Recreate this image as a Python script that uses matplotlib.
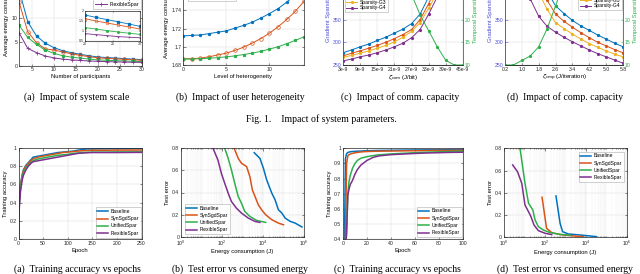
import numpy as np
import matplotlib
matplotlib.use('Agg')
import matplotlib.pyplot as plt
from matplotlib.ticker import FuncFormatter, LogLocator, NullFormatter

# ---------------- data ----------------
series_names = ['Baseline', 'SynSgdSpar', 'UnifiedSpar', 'FlexibleSpar']
sparsity_names = ['Sparsity-G1', 'Sparsity-G2', 'Sparsity-G3', 'Sparsity-G4']

# (a) impact of system scale
participants = [2, 4, 6, 8, 10, 12, 14, 16, 18, 20, 22, 24, 26, 28, 30]
scale_base = [16.0, 9.2, 6.2, 4.7, 3.75, 3.1, 2.7, 2.35, 2.05, 1.8, 1.68, 1.57, 1.46, 1.35, 1.23]
scale_syn = [13.4, 7.1, 4.8, 3.5, 3.25, 2.85, 2.45, 2.15, 1.85, 1.62, 1.5, 1.4, 1.3, 1.2, 1.1]
scale_uni = [8.5, 5.9, 4.45, 3.25, 2.55, 2.05, 1.75, 1.55, 1.35, 1.17, 1.1, 1.02, 0.95, 0.89, 0.83]
scale_flex = [6.9, 3.6, 2.7, 2.0, 1.6, 1.35, 1.18, 1.06, 0.96, 0.87, 0.82, 0.77, 0.72, 0.69, 0.66]

# (b) impact of user heterogeneity
hetero = [0, 1, 2, 3, 4, 5, 6, 7, 8, 9, 10, 11, 12, 13, 14]
het_base = [1.712, 1.7125, 1.713, 1.7145, 1.716, 1.7175, 1.7205, 1.7235, 1.727, 1.7315, 1.7365, 1.742, 1.749, 1.757, 1.766]
het_syn = [1.687, 1.687, 1.6875, 1.689, 1.691, 1.693, 1.696, 1.6995, 1.704, 1.709, 1.715, 1.722, 1.730, 1.739, 1.750]
het_uni = [1.6865, 1.6865, 1.687, 1.6875, 1.688, 1.689, 1.690, 1.6915, 1.693, 1.695, 1.6975, 1.700, 1.7035, 1.707, 1.711]

# (c) impact of comm. capacity (zeta_com in 1e-9 J/bit)
zeta_com = [3, 6, 9, 12, 15, 18, 21, 24, 27, 30, 33, 36, 39, 42, 45]
com_g1 = [277, 283, 290, 296, 304, 311, 320, 329, 341, 362, 400, 445, 490, 540, 600]
com_g2 = [270, 276, 281, 287, 293, 300, 308, 317, 328, 350, 385, 425, 470, 520, 575]
com_g3 = [267, 271, 276, 281, 287, 293, 301, 311, 324, 343, 375, 410, 450, 495, 545]
com_g4 = [259, 263, 268, 272, 277, 283, 290, 298, 310, 328, 362, 400, 440, 485, 530]
com_temporal = [30, 30, 30, 30, 30, 30, 30, 29, 25.5, 21, 17.5, 14, 11, 10, 10]
com_tick_labels = ['3e-9', '9e-9', '15e-9', '21e-9', '27e-9', '33e-9', '39e-9', '45e-9']

# (d) impact of comp. capacity (zeta_cmp in J/iteration)
zeta_cmp = [0.2, 0.6, 1.0, 1.4, 1.8, 2.2, 2.6, 3.0, 3.4, 3.8, 4.2, 4.6, 5.0, 5.4, 5.8]
cmp_g1 = [620, 570, 530, 490, 450, 412, 380, 363, 348, 336, 326, 316, 307, 298, 290]
cmp_g2 = [590, 545, 505, 470, 430, 392, 362, 346, 333, 321, 310, 300, 292, 284, 277]
cmp_g3 = [560, 520, 480, 445, 410, 372, 343, 330, 318, 307, 297, 289, 281, 274, 268]
cmp_g4 = [520, 480, 440, 395, 357, 335, 322, 311, 301, 292, 283, 275, 268, 261, 254]
cmp_temporal = [10, 10, 11, 12, 14, 18, 23, 28, 30, 30, 30, 30, 30, 30, 30]
cmp_tick_labels = ['0.2', '1.0', '1.8', '2.6', '3.4', '4.2', '5.0', '5.8']

# bottom (a) training accuracy vs epochs
epochs_a = [0, 1, 2, 4, 6, 8, 10, 15, 20, 25, 30, 40, 50, 60, 70, 80, 90, 100, 110, 120, 130, 140, 150, 175, 200, 225, 250]
acc_a_base = [0, 0.3, 0.45, 0.58, 0.66, 0.72, 0.76, 0.81, 0.84, 0.87, 0.9, 0.91, 0.92, 0.93, 0.94, 0.95, 0.955, 0.96, 0.965, 0.975, 0.985, 0.99, 0.99, 0.992, 0.993, 0.993, 0.995]
acc_a_syn = [0, 0.3, 0.45, 0.57, 0.65, 0.71, 0.75, 0.8, 0.83, 0.86, 0.88, 0.9, 0.91, 0.92, 0.93, 0.94, 0.95, 0.955, 0.96, 0.965, 0.97, 0.972, 0.975, 0.975, 0.977, 0.977, 0.978]
acc_a_uni = [0, 0.28, 0.42, 0.55, 0.63, 0.69, 0.73, 0.78, 0.81, 0.84, 0.86, 0.88, 0.89, 0.9, 0.91, 0.92, 0.925, 0.93, 0.94, 0.945, 0.95, 0.952, 0.955, 0.955, 0.957, 0.957, 0.958]
acc_a_flex = [0, 0.25, 0.38, 0.52, 0.6, 0.66, 0.7, 0.76, 0.8, 0.83, 0.85, 0.86, 0.87, 0.88, 0.89, 0.9, 0.91, 0.92, 0.93, 0.94, 0.945, 0.948, 0.95, 0.95, 0.95, 0.951, 0.952]

# bottom (b) test error vs consumed energy
en_b_base = [3715, 7080, 10470, 15140, 26920, 38900, 56230, 83180, 120200, 213800, 371500, 794300]
err_b_base = [0.758, 0.707, 0.618, 0.513, 0.394, 0.334, 0.245, 0.215, 0.170, 0.140, 0.125, 0.090]
en_b_syn = [355, 389, 617, 891, 1585, 2291, 3020, 4074, 5888, 8511, 13490, 26920, 56230, 100000]
err_b_syn = [0.82, 0.80, 0.707, 0.663, 0.633, 0.543, 0.424, 0.364, 0.29, 0.245, 0.2, 0.155, 0.125, 0.11]
en_b_uni = [125, 135, 200, 288, 417, 617, 891, 1288, 2291, 4898, 13490]
err_b_uni = [0.82, 0.8, 0.707, 0.603, 0.484, 0.364, 0.304, 0.23, 0.185, 0.149, 0.131]
en_b_flex = [33, 36, 63, 93, 135, 200, 288, 501, 891, 1905, 4074, 7080]
err_b_flex = [0.82, 0.8, 0.693, 0.573, 0.484, 0.394, 0.319, 0.26, 0.215, 0.17, 0.14, 0.131]

# bottom (c) training accuracy vs epochs
epochs_c = [0, 1, 2, 3, 4, 5, 6, 8, 10, 12, 15, 20, 25, 30, 40, 50, 60, 70, 80, 90, 100]
acc_c_base = [0.1, 0.2, 0.93, 0.965, 0.972, 0.975, 0.977, 0.979, 0.98, 0.981, 0.982, 0.984, 0.985, 0.986, 0.987, 0.988, 0.989, 0.99, 0.99, 0.991, 0.992]
acc_c_syn = [0.1, 0.15, 0.4, 0.9, 0.95, 0.958, 0.962, 0.967, 0.97, 0.973, 0.976, 0.979, 0.98, 0.981, 0.982, 0.983, 0.984, 0.985, 0.986, 0.986, 0.987]
acc_c_uni = [0.1, 0.15, 0.3, 0.45, 0.7, 0.78, 0.82, 0.87, 0.9, 0.92, 0.935, 0.945, 0.952, 0.957, 0.963, 0.967, 0.971, 0.974, 0.977, 0.979, 0.981]
acc_c_flex = [0.1, 0.15, 0.3, 0.45, 0.69, 0.73, 0.76, 0.79, 0.83, 0.86, 0.89, 0.92, 0.94, 0.95, 0.958, 0.962, 0.966, 0.969, 0.971, 0.973, 0.974]

# bottom (d) test error vs consumed energy
en_d_base = [363, 575, 759, 1445, 5370, 34670]
err_d_base = [0.372, 0.126, 0.051, 0.03, 0.021, 0.006]
en_d_syn = [76, 126, 224, 575, 1738, 7762]
err_d_syn = [0.36, 0.081, 0.042, 0.024, 0.015, 0.006]
en_d_uni = [6.2, 6.5, 11.2, 16.6, 26.9, 34.7, 50, 87, 186, 575, 1738]
err_d_uni = [0.82, 0.79, 0.485, 0.306, 0.246, 0.156, 0.096, 0.066, 0.042, 0.027, 0.018]
en_d_flex = [2.8, 4.8, 7.8, 11.2, 16.6, 21.4, 30.9, 50, 107, 224]
err_d_flex = [0.65, 0.59, 0.485, 0.29, 0.23, 0.19, 0.11, 0.06, 0.036, 0.024]

# ---------------- style ----------------
W, H = 640, 274
plt.rcParams['font.family'] = ['Liberation Sans', 'DejaVu Sans']
plt.rcParams['mathtext.fontset'] = 'dejavusans'

C_BLUE = '#0072BD'
C_ORANGE = '#D95319'
C_YELLOW = '#EDB120'
C_PURPLE = '#7E2F8E'
C_GREEN = '#2DB04B'
C_LEFT = '#4B4BD6'
C_AX = '#262626'
TICK_FS = 3.7
LABEL_FS = 4.2
LEG_FS = 3.6

fig = plt.figure(figsize=(W / 100, H / 100), dpi=100)
fig.patch.set_facecolor('white')


def add_ax(l, r, t, b):
    return fig.add_axes([l / W, 1 - b / H, (r - l) / W, (b - t) / H])


def style(ax, right=True):
    for s in ax.spines.values():
        s.set_linewidth(0.5)
        s.set_color(C_AX)
    ax.tick_params(which='both', direction='in', length=1.8, width=0.4,
                   labelsize=TICK_FS, pad=1.2, colors=C_AX, top=True, right=right)
    ax.tick_params(which='minor', length=1.0)
    ax.grid(True, which='major', color='#dcdcdc', lw=0.35)
    ax.set_axisbelow(True)


def legend(ax, loc, xy, spacing=0.15, fs=LEG_FS):
    lg = ax.legend(loc=loc, bbox_to_anchor=(xy[0] / W, 1 - xy[1] / H),
                   bbox_transform=fig.transFigure, fontsize=fs, frameon=True,
                   fancybox=False, borderpad=0.35, labelspacing=spacing,
                   handlelength=2.2, handletextpad=0.5, borderaxespad=0)
    lg.get_frame().set_linewidth(0.4)
    lg.get_frame().set_edgecolor('#999999')
    return lg


gfmt = FuncFormatter(lambda v, p: ('%g' % round(v, 4)))

# ---------- top (a) ----------
ax = add_ax(19, 141.5, -29.5, 65.5)
style(ax)
ax.plot(participants, scale_base, color=C_BLUE, marker='s', lw=0.7, ms=1.8, label=series_names[0])
ax.plot(participants, scale_syn, color=C_ORANGE, marker='o', mfc='none', mew=0.5, label=series_names[1], lw=0.7, ms=2.6)
ax.plot(participants, scale_uni, color=C_GREEN, marker='s', label=series_names[2], lw=0.7, ms=1.3)
ax.plot(participants, scale_flex, color=C_PURPLE, marker='+', mew=0.5, label=series_names[3], lw=0.7, ms=2.2)
ax.set_xlim(2, 30)
ax.set_ylim(0, 20)
ax.set_xticks([5, 10, 15, 20, 25, 30])
ax.set_yticks([0, 5, 10])
ax.set_xlabel('Number of participants', fontsize=LABEL_FS, labelpad=1.5)
ax.set_ylabel('Average energy consumption', fontsize=LABEL_FS, labelpad=1.5)
legend(ax, 'lower right', (141, 8.5), fs=3.8)

ins = add_ax(85, 140, 11, 41)
style(ins)
ins.tick_params(labelsize=2.6, pad=0.6, length=1.0)
ins.plot(participants, scale_base, color=C_BLUE, marker='s', lw=0.6, ms=1.4)
ins.plot(participants, scale_syn, color=C_ORANGE, marker='o', mfc='none', mew=0.4, lw=0.6, ms=2.0)
ins.plot(participants, scale_uni, color=C_GREEN, marker='s', lw=0.6, ms=1.0)
ins.plot(participants, scale_flex, color=C_PURPLE, marker='+', mew=0.4, lw=0.6, ms=1.6)
ins.set_xlim(20, 30)
ins.set_ylim(0.5, 2)
ins.set_xticks([20, 25, 30])
ins.set_yticks([0.5, 1, 1.5, 2])
ins.yaxis.set_major_formatter(gfmt)

# ---------- top (b) ----------
ax = add_ax(183, 304, -26, 65)
style(ax)
ax.plot(hetero, het_base, color=C_BLUE, marker='o', ms=1.4, lw=0.7, label=series_names[0])
ax.plot(hetero, het_syn, color=C_ORANGE, marker='o', mfc='none', mew=0.5, ms=2.6, lw=0.7, label=series_names[1])
ax.plot(hetero, het_uni, color=C_GREEN, marker='s', ms=1.3, lw=0.7, label=series_names[2])
ax.set_xlim(0, 14)
ax.set_ylim(1.68, 1.78)
ax.set_xticks([0, 5, 10])
ax.set_yticks([1.68, 1.70, 1.72, 1.74])
ax.yaxis.set_major_formatter(gfmt)
ax.set_xlabel('Level of heterogeneity', fontsize=LABEL_FS, labelpad=1.5)
ax.set_ylabel('Average energy consumption', fontsize=LABEL_FS, labelpad=1.5)
legend(ax, 'lower left', (188, 0.8), fs=3.8)


def sparsity_panel(l, r, xs, g1, g2, g3, g4, temporal, xlim, xticks, xticklabels, xlabel, legloc, legxy):
    ax = add_ax(l, r, -26, 65)
    style(ax, right=False)
    kw = dict(marker='.', ms=2.6, lw=0.7)
    ax.plot(xs, g1, color=C_BLUE, label=sparsity_names[0], **kw)
    ax.plot(xs, g2, color=C_ORANGE, label=sparsity_names[1], **kw)
    ax.plot(xs, g3, color=C_YELLOW, label=sparsity_names[2], **kw)
    ax.plot(xs, g4, color=C_PURPLE, label=sparsity_names[3], **kw)
    ax.set_xlim(*xlim)
    ax.set_ylim(250, 450)
    ax.set_yticks([250, 300, 350])
    ax.set_xticks(xticks)
    ax.set_xticklabels(xticklabels)
    ax.tick_params(axis='y', colors=C_LEFT)
    ax.spines['left'].set_color(C_LEFT)
    ax.set_ylabel('Gradient Sparsity', fontsize=LABEL_FS, color=C_LEFT, labelpad=1.5)
    ax.set_xlabel(xlabel, fontsize=LABEL_FS, labelpad=1.0)
    ax2 = ax.twinx()
    ax2.plot(xs, temporal, color=C_GREEN, **kw)
    ax2.set_ylim(10, 30)
    ax2.set_yticks([10, 15, 20])
    for s in ax2.spines.values():
        s.set_linewidth(0.5)
        s.set_color(C_AX)
    ax2.spines['right'].set_color(C_GREEN)
    ax2.spines['left'].set_color(C_LEFT)
    ax2.tick_params(direction='in', length=1.8, width=0.4, labelsize=TICK_FS, pad=1.2, colors=C_GREEN)
    ax2.set_ylabel('Temporal Sparsity', fontsize=LABEL_FS, color=C_GREEN, labelpad=1.5)
    legend(ax, legloc, legxy, fs=3.6, spacing=0.1)
    return ax


sparsity_panel(343, 463, zeta_com, com_g1, com_g2, com_g3, com_g4, com_temporal,
               (3, 45), [3, 9, 15, 21, 27, 33, 39, 45], com_tick_labels,
               r'$\zeta_{\rm com}$ (J/bit)', 'lower left', (344.5, 12))
sparsity_panel(505, 623, zeta_cmp, cmp_g1, cmp_g2, cmp_g3, cmp_g4, cmp_temporal,
               (0.2, 5.8), [0.2, 1.0, 1.8, 2.6, 3.4, 4.2, 5.0, 5.8], cmp_tick_labels,
               r'$\zeta_{\rm cmp}$ (J/iteration)', 'lower right', (622, 10))

# ---------- bottom (a) ----------
BLW = 1.1
ax = add_ax(18.5, 141.5, 148, 239)
style(ax)
ax.plot(epochs_a, acc_a_base, color=C_BLUE, lw=BLW, label=series_names[0])
ax.plot(epochs_a, acc_a_syn, color=C_ORANGE, lw=BLW, label=series_names[1])
ax.plot(epochs_a, acc_a_uni, color=C_GREEN, lw=BLW, label=series_names[2])
ax.plot(epochs_a, acc_a_flex, color=C_PURPLE, lw=BLW, label=series_names[3])
ax.set_xlim(0, 250)
ax.set_ylim(0, 1)
ax.set_xticks([0, 50, 100, 150, 200, 250])
ax.set_yticks([0, 0.2, 0.4, 0.6, 0.8, 1])
ax.yaxis.set_major_formatter(gfmt)
ax.set_xlabel('Epoch', fontsize=LABEL_FS, labelpad=1.5)
ax.set_ylabel('Training accuracy', fontsize=LABEL_FS, labelpad=1.5)
legend(ax, 'lower right', (141, 237.5), spacing=0.45)


def log_panel(l, r, t, b, data, legloc, legxy):
    ax = add_ax(l, r, t, b)
    style(ax)
    ax.set_xscale('log')
    for (xs, ys), c, n in zip(data, [C_BLUE, C_ORANGE, C_GREEN, C_PURPLE], series_names):
        ax.plot(xs, ys, color=c, lw=BLW, label=n)
    ax.set_xlim(1, 1e6)
    ax.set_ylim(0, 0.8)
    ax.set_xticks([1, 1e2, 1e4, 1e6])
    ax.xaxis.set_minor_locator(LogLocator(base=10, subs=np.arange(1, 10), numticks=30))
    ax.xaxis.set_minor_formatter(NullFormatter())
    ax.grid(True, which='minor', axis='x', color='#ececec', lw=0.3)
    ax.set_yticks([0, 0.2, 0.4, 0.6, 0.8])
    ax.yaxis.set_major_formatter(gfmt)
    ax.set_xlabel('Energy consumption (J)', fontsize=LABEL_FS, labelpad=1.0)
    ax.set_ylabel('Test error', fontsize=LABEL_FS, labelpad=1.5)
    legend(ax, legloc, legxy, spacing=0.45)
    return ax


log_panel(181, 304, 148, 237,
          [(en_b_base, err_b_base), (en_b_syn, err_b_syn), (en_b_uni, err_b_uni), (en_b_flex, err_b_flex)],
          'lower left', (184.5, 234))

# ---------- bottom (c) ----------
ax = add_ax(343, 463, 148.3, 239.3)
style(ax)
ax.plot(epochs_c, acc_c_base, color=C_BLUE, lw=BLW, label=series_names[0])
ax.plot(epochs_c, acc_c_syn, color=C_ORANGE, lw=BLW, label=series_names[1])
ax.plot(epochs_c, acc_c_uni, color=C_GREEN, lw=BLW, label=series_names[2])
ax.plot(epochs_c, acc_c_flex, color=C_PURPLE, lw=BLW, label=series_names[3])
ax.set_xlim(0, 100)
ax.set_ylim(0.4, 1)
ax.set_xticks([0, 20, 40, 60, 80, 100])
ax.set_yticks([0.4, 0.5, 0.6, 0.7, 0.8, 0.9, 1])
ax.yaxis.set_major_formatter(gfmt)
ax.set_xlabel('Epoch', fontsize=LABEL_FS, labelpad=1.5)
ax.set_ylabel('Training accuracy', fontsize=LABEL_FS, labelpad=1.5)
legend(ax, 'lower right', (462, 237), spacing=0.45)

# ---------- bottom (d) ----------
log_panel(503.5, 626.5, 148.3, 237.3,
          [(en_d_base, err_d_base), (en_d_syn, err_d_syn), (en_d_uni, err_d_uni), (en_d_flex, err_d_flex)],
          'upper right', (624, 151.5))

# ---------- captions ----------
def caption(x, y, s):
    fig.text(x / W, 1 - y / H, s, ha='center', va='center', fontsize=7,
             family=['Liberation Serif', 'DejaVu Serif'], color='black')


caption(77, 97, '(a)  Impact of system scale')
caption(240, 97, '(b)  Impact of user heterogeneity')
caption(400, 97, '(c)  Impact of comm. capacity')
caption(565, 97, '(d)  Impact of comp. capacity')
caption(321, 119, 'Fig. 1.    Impact of system parameters.')
caption(77, 269.5, '(a)  Training accuracy vs epochs')
caption(240, 269.5, '(b)  Test error vs consumed energy')
caption(397, 269.5, '(c)  Training accuracy vs epochs')
caption(565, 269.5, '(d)  Test error vs consumed energy')

fig.savefig('out.png', dpi=100)
